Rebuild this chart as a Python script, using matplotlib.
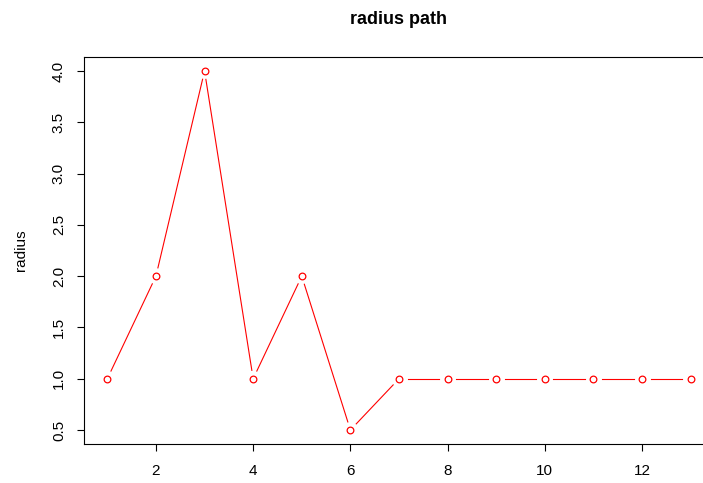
import numpy as np
import matplotlib
matplotlib.use("Agg")
import matplotlib.pyplot as plt

plt.rcParams["font.family"] = ["Liberation Sans", "DejaVu Sans"]

step = list(range(1, 14))
radius = [1, 2, 4, 1, 2, 0.5, 1, 1, 1, 1, 1, 1, 1]
xticks = [2, 4, 6, 8, 10, 12]
yticks = [0.5, 1.0, 1.5, 2.0, 2.5, 3.0, 3.5, 4.0]

W, H = 703, 483
fig = plt.figure(figsize=(W / 100, H / 100), dpi=100)
# plot region runs off the right edge like the base-graphics device did
ax = fig.add_axes([84 / W, 1 - 444.4 / H, (714 - 84) / W, (444.4 - 56.6) / H])
ax.patch.set_visible(False)

xr = max(step) - min(step)
yr = max(radius) - min(radius)
ax.set_xlim(min(step) - 0.04 * xr, max(step) + 0.04 * xr)
ax.set_ylim(min(radius) - 0.04 * yr, max(radius) + 0.04 * yr)

for s in ["top", "bottom", "left"]:
    ax.spines[s].set_linewidth(0.8)
    ax.spines[s].set_color("black")
ax.spines["right"].set_visible(False)

ax.set_xticks(xticks)
ax.set_xticklabels([str(t) for t in xticks])
ax.set_yticks(yticks)
ax.set_yticklabels([f"{t:.1f}" for t in yticks], rotation=90, va="center")
ax.tick_params(axis="both", length=7 * 0.72, width=0.8, labelsize=11)
ax.tick_params(axis="x", pad=9)
ax.tick_params(axis="y", pad=8)

# "b" style: line segments with a gap around each point
gap = 8.5
pts = ax.transData.transform(np.column_stack([step, radius]))
inv = ax.transData.inverted()
for (x0, y0), (x1, y1) in zip(pts[:-1], pts[1:]):
    d = np.hypot(x1 - x0, y1 - y0)
    if d <= 2 * gap:
        continue
    ux, uy = (x1 - x0) / d, (y1 - y0) / d
    a = inv.transform((x0 + ux * gap, y0 + uy * gap))
    b = inv.transform((x1 - ux * gap, y1 - uy * gap))
    ax.plot([a[0], b[0]], [a[1], b[1]], color="red", linewidth=0.8)

ax.plot(step, radius, linestyle="none", marker="o", markersize=4.8,
        markerfacecolor="white", markeredgecolor="red", markeredgewidth=0.9)

fig.text(20.5 / W, 1 - 250.5 / H, "radius", rotation=90, ha="center",
         va="center", fontsize=11)
fig.text(399 / W, 1 - 20 / H, "radius path", ha="center", va="center",
         fontsize=13, fontweight="bold")

fig.savefig("out.png", dpi=100)
